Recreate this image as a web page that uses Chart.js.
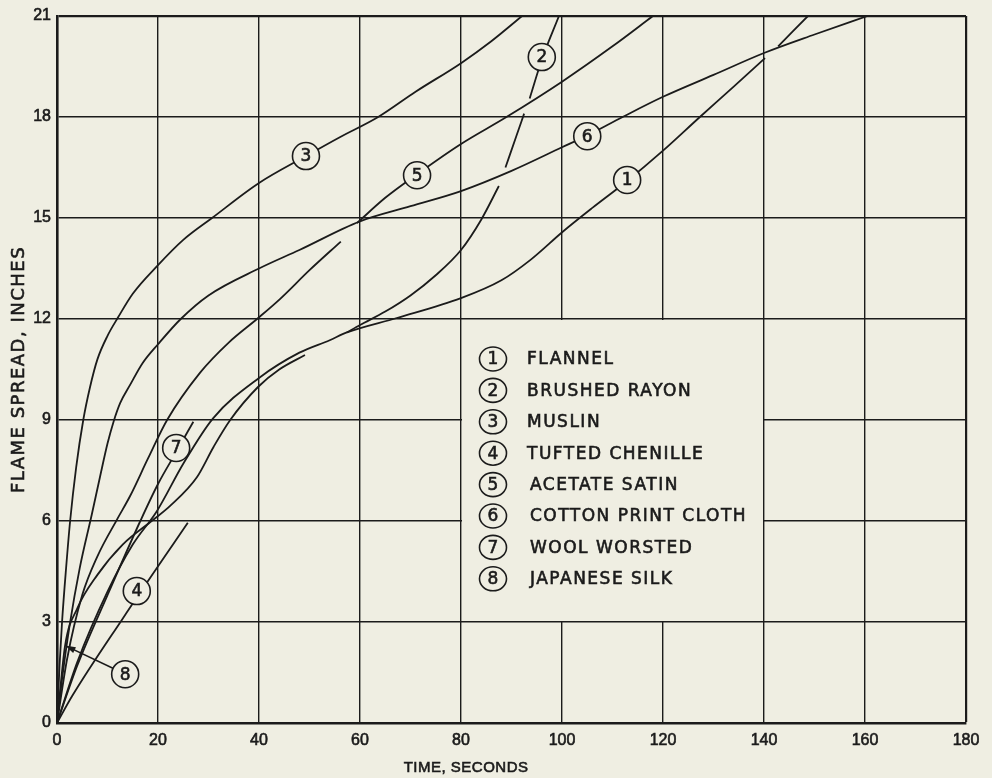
<!DOCTYPE html>
<html>
<head>
<meta charset="utf-8">
<title>Flame spread</title>
<script src="https://cdn.jsdelivr.net/npm/chart.js@4.4.1/dist/chart.umd.min.js"></script>
<style>
  html, body { margin: 0; padding: 0; background: #efeee2; }
  #wrap { width: 992px; height: 778px; position: relative; }
</style>
</head>
<body>
<div id="wrap"><canvas id="chart"></canvas></div>
<script>
const FABRICS = [
  'FLANNEL', 'BRUSHED RAYON', 'MUSLIN', 'TUFTED CHENILLE',
  'ACETATE SATIN', 'COTTON PRINT CLOTH', 'WOOL WORSTED', 'JAPANESE SILK'
];

const X_TICKS = [0, 20, 40, 60, 80, 100, 120, 140, 160, 180];
const Y_TICKS = [0, 3, 6, 9, 12, 15, 18, 21];

// [seconds, inches]; a null spread is where the pen lifts at a crossing
const FLANNEL = [[0,0],[4,1.8],[10,3.9],[15,5.3],[19.8,6.3],[25,7.7],[30.9,9.05],[40,10.25],[48,11.0],[54,11.37],[57.4,11.6],[67.3,12.03],[80,12.62],[88,13.15],[93.7,13.75],[100.2,14.6],[106,15.3],[112.9,16.1],[120,17.0],[127.3,18],[134,18.9],[140.2,19.75],[141.5,null],[142.8,20.1],[148.7,21]];
const BRUSHED_RAYON = [[57.4,11.6],[60,11.82],[65,12.22],[70,12.7],[75,13.3],[80,14.05],[84,14.95],[87.5,15.95],[88.1,null],[88.8,16.5],[91,17.45],[92.5,18.1],[93,null],[93.6,18.55],[96,19.7],[99.4,21]];
const MUSLIN = [[0,0],[0.5,1.7],[1,3],[1.8,4.6],[2.6,6],[3.8,7.6],[5.2,9],[6.5,9.95],[8,10.8],[10,11.5],[12.1,12.05],[15,12.75],[20,13.6],[25,14.35],[30.7,15],[40,16.04],[49.3,16.84],[56,17.4],[63.6,18],[71,18.75],[80,19.6],[86,20.25],[92.1,21]];
const TUFTED_CHENILLE = [[0,0],[3,0.8],[13,3.1],[25.9,5.95]];
const ACETATE_SATIN = [[0,0],[2,1.9],[5,3.8],[8,4.95],[11.9,6.05],[14.5,6.75],[18,7.85],[21.8,9],[28.3,10.4],[34,11.3],[39.6,12],[44.2,12.6],[50,13.45],[56.2,14.3],[57.8,null],[59.4,14.85],[65,15.6],[71.3,16.3],[80,17.2],[89,18],[100,19.05],[110,20.1],[118,21]];
const COTTON_PRINT_CLOTH = [[0,0],[1,1.3],[2.5,2.9],[4.5,4.6],[6.9,6.2],[8.5,7.3],[10,8.3],[11.2,8.95],[12.5,9.5],[14.5,10.05],[17,10.7],[20,11.25],[24.5,12],[30,12.7],[40,13.5],[48,14.05],[60,14.9],[70,15.35],[80,15.8],[90,16.4],[100,17.1],[105,17.45],[112,18.0],[120,18.6],[130,19.25],[140,19.9],[150,20.45],[160.5,21]];
const WOOL_WORSTED = [[0,0],[4,1.7],[10,3.8],[16.5,6],[20,7.1],[23.6,8.05],[27,8.95]];
const JAPANESE_SILK = [[0,0],[1.6,2.3],[4,3.4],[8,4.4],[13,5.3],[19,6.03],[22.4,6.45],[27.7,7.3],[31,8.2],[34.3,9],[39.8,9.98],[44,10.5],[49.1,10.93]];

const SERIES = [FLANNEL, BRUSHED_RAYON, MUSLIN, TUFTED_CHENILLE, ACETATE_SATIN, COTTON_PRINT_CLOTH, WOOL_WORSTED, JAPANESE_SILK];

// where the circled numbers sit on the curves (data units)
const TAGS = [
  { n: 1, t: 112.9, s: 16.13 },
  { n: 2, t: 96, s: 19.78 },
  { n: 3, t: 49.3, s: 16.84 },
  { n: 4, t: 15.8, s: 3.92 },
  { n: 5, t: 71.3, s: 16.27 },
  { n: 6, t: 105, s: 17.43 },
  { n: 7, t: 23.6, s: 8.17 },
  { n: 8, t: 13.5, s: 1.45 }
];
const ARROW_TIP = { t: 1.6, s: 2.3 };
const KEY_BOX = { t0: 80, t1: 140, s0: 3, s1: 12 };

const INK = '#1b1b1b';
const PAPER = '#efeee2';

function toPx(chart, t, s) {
  return [chart.scales.x.getPixelForValue(t), chart.scales.y.getPixelForValue(s)];
}

function inkText(ctx, text, x, y) {
  ctx.fillStyle = INK;
  ctx.strokeStyle = INK;
  ctx.lineWidth = 0.6;
  ctx.fillText(text, x, y);
  ctx.strokeText(text, x, y);
}

function circled(ctx, cx, cy, n, rx, ry) {
  ctx.beginPath();
  ctx.ellipse(cx, cy, rx, ry, 0, 0, Math.PI * 2);
  ctx.fillStyle = PAPER;
  ctx.fill();
  ctx.lineWidth = 1.6;
  ctx.strokeStyle = INK;
  ctx.stroke();
  ctx.font = '17px "DejaVu Sans"';
  ctx.textAlign = 'center';
  ctx.textBaseline = 'middle';
  inkText(ctx, String(n), cx, cy + 1);
}

const drafting = {
  id: 'drafting',
  beforeDatasetsDraw(chart) {
    // the key panel blanks out the grid behind it
    const ctx = chart.ctx;
    const [x0, y0] = toPx(chart, KEY_BOX.t0, KEY_BOX.s1);
    const [x1, y1] = toPx(chart, KEY_BOX.t1, KEY_BOX.s0);
    ctx.save();
    ctx.fillStyle = PAPER;
    ctx.fillRect(x0 + 1, y0 + 1, x1 - x0 - 2, y1 - y0 - 2);
    ctx.restore();
  },
  afterDatasetsDraw(chart) {
    const ctx = chart.ctx;
    ctx.save();

    // arrow from tag 8 to its curve
    const tag8 = TAGS.find(d => d.n === 8);
    const [cx8, cy8] = toPx(chart, tag8.t, tag8.s);
    const [tx, ty] = toPx(chart, ARROW_TIP.t, ARROW_TIP.s);
    const ang = Math.atan2(ty - cy8, tx - cx8);
    ctx.strokeStyle = INK;
    ctx.fillStyle = INK;
    ctx.lineWidth = 1.6;
    ctx.beginPath();
    ctx.moveTo(cx8 + Math.cos(ang) * 13, cy8 + Math.sin(ang) * 13);
    ctx.lineTo(tx - Math.cos(ang) * 6, ty - Math.sin(ang) * 6);
    ctx.stroke();
    ctx.beginPath();
    ctx.moveTo(tx, ty);
    ctx.lineTo(tx - Math.cos(ang - 0.3) * 11, ty - Math.sin(ang - 0.3) * 11);
    ctx.lineTo(tx - Math.cos(ang + 0.3) * 11, ty - Math.sin(ang + 0.3) * 11);
    ctx.closePath();
    ctx.fill();

    TAGS.forEach(tag => {
      const [cx, cy] = toPx(chart, tag.t, tag.s);
      circled(ctx, cx, cy, tag.n, 13.5, 13.5);
    });

    // key
    const [kx, ky] = toPx(chart, KEY_BOX.t0, KEY_BOX.s1);
    FABRICS.forEach((name, i) => {
      const rowY = ky + 40 + i * 31.4;
      circled(ctx, kx + 32, rowY, i + 1, 13.5, 12);
      ctx.font = '17px "DejaVu Sans"';
      ctx.letterSpacing = '1.5px';
      ctx.textAlign = 'left';
      ctx.textBaseline = 'middle';
      inkText(ctx, name, kx + 66 + (i >= 4 ? 3 : 0), rowY + 1);
      ctx.letterSpacing = '0px';
    });
    ctx.restore();
  },
  afterDraw(chart) {
    const ctx = chart.ctx;
    const area = chart.chartArea;
    ctx.save();
    ctx.textAlign = 'center';
    ctx.textBaseline = 'middle';
    ctx.font = '18px "DejaVu Sans"';
    ctx.letterSpacing = '1.5px';
    ctx.translate(19, (area.top + area.bottom) / 2);
    ctx.rotate(-Math.PI / 2);
    inkText(ctx, 'FLAME SPREAD, INCHES', 0, 0);
    ctx.restore();

    ctx.save();
    ctx.textAlign = 'center';
    ctx.textBaseline = 'middle';
    ctx.font = '15px "Liberation Sans"';
    ctx.letterSpacing = '0.5px';
    inkText(ctx, 'TIME, SECONDS', chart.scales.x.getPixelForValue(81), 768);
    ctx.restore();
  }
};

const datasets = SERIES.map((pts, i) => ({
  label: FABRICS[i],
  data: pts.map(([t, s]) => ({ x: t, y: s })),
  borderColor: INK,
  borderWidth: 1.8,
  pointRadius: 0,
  fill: false,
  spanGaps: false,
  cubicInterpolationMode: 'monotone'
}));

const tickFont = { family: 'Liberation Sans', size: 16 };

new Chart(document.getElementById('chart'), {
  type: 'line',
  data: { datasets },
  options: {
    responsive: true,
    maintainAspectRatio: false,
    animation: false,
    layout: { padding: { top: 16, right: 26, bottom: 0, left: 0 } },
    plugins: { legend: { display: false }, tooltip: { enabled: false } },
    scales: {
      x: {
        type: 'linear',
        min: 0,
        max: 180,
        afterBuildTicks: s => { s.ticks = X_TICKS.map(v => ({ value: v })); },
        afterFit: s => { s.height = 55; },
        grid: {
          color: INK,
          lineWidth: c => (c.tick && c.tick.value === 180 ? 2.2 : 1.4),
          drawTicks: false
        },
        border: { display: true, color: INK, width: 2.6 },
        ticks: { color: INK, padding: 8, maxRotation: 0, font: tickFont, textStrokeColor: INK, textStrokeWidth: 0.6 }
      },
      y: {
        type: 'linear',
        min: 0,
        max: 21,
        afterBuildTicks: s => { s.ticks = Y_TICKS.map(v => ({ value: v })); },
        afterFit: s => { s.width = 57; },
        grid: {
          color: INK,
          lineWidth: c => (c.tick && c.tick.value === 21 ? 2.2 : 1.4),
          drawTicks: false
        },
        border: { display: true, color: INK, width: 2.6 },
        ticks: { color: INK, padding: 6, font: tickFont, textStrokeColor: INK, textStrokeWidth: 0.6 }
      }
    }
  },
  plugins: [drafting]
});
</script>
</body>
</html>
